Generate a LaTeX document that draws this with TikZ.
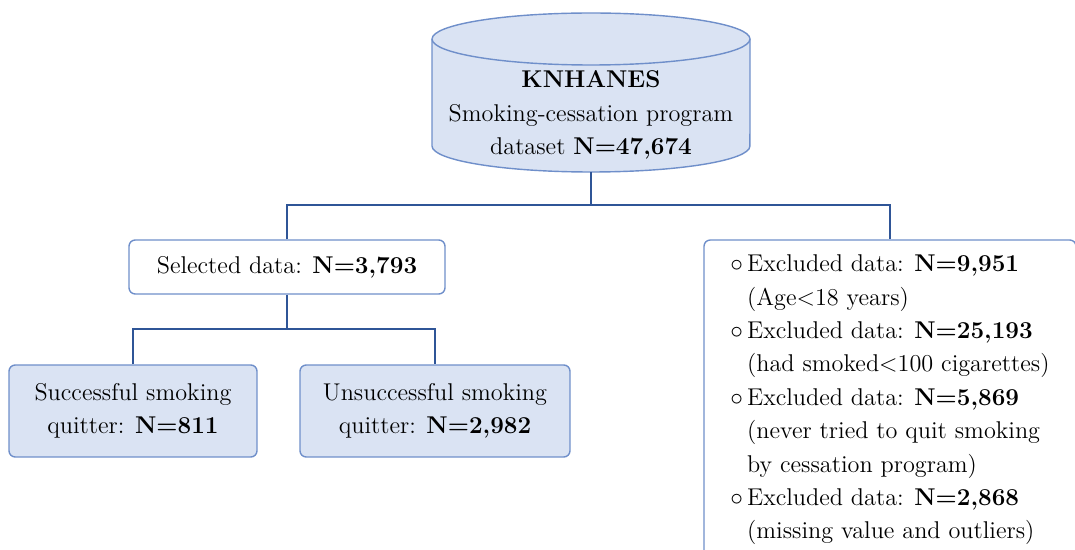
\documentclass[tikz,border=0pt]{standalone}
\usepackage{tikz}
\definecolor{boxfill}{HTML}{DAE3F3}
\definecolor{boxline}{HTML}{6F8FCA}
\definecolor{linkline}{HTML}{2F5597}
\begin{document}
\begin{tikzpicture}[x=0.02cm,y=-0.02cm,font=\fontsize{13.8}{19}\selectfont]
			\tikzstyle{box} = [rectangle,draw=boxline,line width=0.8pt,rounded corners=3.5pt,align=center,inner sep=0pt]
			\tikzstyle{bluebox} = [box,fill=boxfill]
			\tikzstyle{cyl} = [draw=boxline,fill=boxfill,line width=0.8pt]
			\tikzstyle{rim} = [x radius=3.18cm,y radius=0.52cm]
			\tikzstyle{link} = [draw=linkline,line width=1.2pt]
			
			\clip (0,0) rectangle (1075,550);
			
			\path[cyl] (432,39) -- (432,146) arc[rim,start angle=180,end angle=360] -- (750,39) arc[rim,start angle=0,end angle=180] -- cycle;
			\path[cyl] (432,39) arc[rim,start angle=180,end angle=360];
			\node[minimum width=6.36cm,minimum height=3.18cm,inner sep=0pt] (db) at (591,92.5) {};
			\node[align=center] (dbtext) at (591,115) {\textbf{KNHANES}\\Smoking-cessation program\\dataset \textbf{N=47,674}};
			
			\node[box,fill=white,minimum width=6.32cm,minimum height=1.08cm] (sel) at (287,267) {Selected data: \textbf{N=3,793}};
			\node[box,fill=white,minimum width=7.44cm,minimum height=6.4cm,align=left] (excl) at (890,400) {$\circ$\,Excluded data: \textbf{N=9,951}\\\hphantom{$\circ$\,}(Age\textless18 years)\\$\circ$\,Excluded data: \textbf{N=25,193}\\\hphantom{$\circ$\,}(had smoked\textless100 cigarettes)\\$\circ$\,Excluded data: \textbf{N=5,869}\\\hphantom{$\circ$\,}(never tried to quit smoking\\\hphantom{$\circ$\,}by cessation program)\\$\circ$\,Excluded data: \textbf{N=2,868}\\\hphantom{$\circ$\,}(missing value and outliers)};
			
			\node[bluebox,minimum width=4.96cm,minimum height=1.84cm] (quit) at (133,411) {Successful smoking\\quitter: \textbf{N=811}};
			\node[bluebox,minimum width=5.4cm,minimum height=1.84cm] (noquit) at (435,411) {Unsuccessful smoking\\quitter: \textbf{N=2,982}};
			
			\coordinate (split) at (591,205);
			\coordinate (selsplit) at (287,329);
			
			\path[link] (db.south) -- (split);
			\path[link] (sel.north) |- (split) -| (excl.north);
			\path[link] (sel.south) -- (selsplit);
			\path[link] (quit.north) |- (selsplit) -| (noquit.north);
		\end{tikzpicture}
\end{document}
